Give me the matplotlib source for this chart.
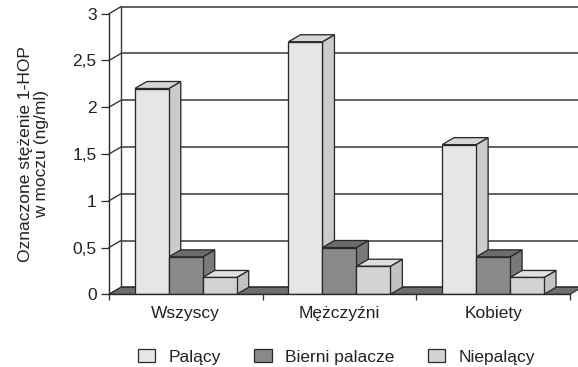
# 3D-style grouped column chart: 1-HOP concentration in urine
import matplotlib.pyplot as plt
from matplotlib.patches import Polygon, Patch

plt.rcParams['font.family'] = ['Liberation Sans', 'DejaVu Sans']
plt.rcParams['font.size'] = 12.5

# data
groups = ['Wszyscy', 'Mężczyźni', 'Kobiety']
series = ['Palący', 'Bierni palacze', 'Niepalący']
palacy = [2.2, 2.7, 1.6]
bierni = [0.4, 0.5, 0.4]
niepalacy = [0.18, 0.3, 0.18]
yticks = [0, 0.5, 1, 1.5, 2, 2.5, 3]
ytick_labels = ['0', '0,5', '1', '1,5', '2', '2,5', '3']

# face colours per series: front, top, side
front = ['#e6e6e6', '#8a8a8a', '#d3d3d3']
top = ['#d6d6d6', '#6c6c6c', '#e0e0e0']
side = ['#cbcbcb', '#7a7a7a', '#c2c2c2']
edge = '#2a2a2a'

# depth of the 3D box in data units
DX, DY = 0.078, 0.075
bar_w = 0.221
gap = 0.168

fig = plt.figure(figsize=(5.78, 3.67), dpi=100)
ax = fig.add_axes([0.1886, 0.1981, 0.7976, 0.7646])
ax.set_xlim(0, 3)
ax.set_ylim(0, 3)
ax.patch.set_visible(False)

# back wall and left side wall gridlines
for v in yticks:
    ax.plot([DX, 3 + DX + 0.1], [v + DY, v + DY], color='#383838', lw=1.1,
            zorder=1, clip_on=False, solid_capstyle='butt')
    ax.plot([0, DX], [v, v + DY], color='#383838', lw=1.0, zorder=1, clip_on=False)
ax.plot([DX, DX], [DY, 3 + DY], color='#383838', lw=1.0, zorder=1, clip_on=False)

# floor
ax.add_patch(Polygon([(0, 0), (3, 0), (3 + DX, DY), (DX, DY)], closed=True,
                     facecolor='#6e6e6e', edgecolor=edge, lw=0.8,
                     zorder=2, clip_on=False))

values = [palacy, bierni, niepalacy]
for k, vals in enumerate(values):
    xs = [i + gap + k * bar_w for i in range(len(groups))]
    ax.bar(xs, vals, width=bar_w, align='edge', color=front[k],
           edgecolor=edge, linewidth=0.95, zorder=5)
    for x, h in zip(xs, vals):
        r = x + bar_w
        ax.add_patch(Polygon([(x, h), (r, h), (r + DX, h + DY), (x + DX, h + DY)],
                             closed=True, facecolor=top[k], edgecolor=edge,
                             lw=0.95, zorder=4, clip_on=False))
        ax.add_patch(Polygon([(r, 0), (r, h), (r + DX, h + DY), (r + DX, DY)],
                             closed=True, facecolor=side[k], edgecolor=edge,
                             lw=0.95, zorder=3, clip_on=False))

# axes
for s in ['top', 'right']:
    ax.spines[s].set_visible(False)
for s in ['left', 'bottom']:
    ax.spines[s].set_color(edge)
    ax.spines[s].set_linewidth(1.0)
    ax.spines[s].set_zorder(6)

ax.set_yticks(yticks)
ax.set_yticklabels(ytick_labels)
ax.tick_params(axis='y', direction='out', length=5.5, width=0.9, pad=3.5,
               colors=edge, labelcolor='#222222')

ax.set_xticks([0, 1, 2, 3])
ax.set_xticklabels([])
ax.set_xticks([0.5, 1.5, 2.5], minor=True)
ax.set_xticklabels(groups, minor=True)
ax.tick_params(axis='x', which='major', direction='out', length=4.5, width=0.9,
               colors=edge)
ax.tick_params(axis='x', which='minor', length=0, pad=8.5, labelcolor='#222222')

ax.set_ylabel('Oznaczone stężenie 1-HOP\nw moczu (ng/ml)', linespacing=1.1,
              color='#222222')
ax.yaxis.set_label_coords(-0.13, 0.5)

handles = [Patch(facecolor=front[k], edgecolor=edge, linewidth=0.9)
           for k in range(len(series))]
fig.legend(handles, series, loc='center', bbox_to_anchor=(0.582, 0.027), ncol=3,
           frameon=False, handlelength=1.0, handleheight=0.75,
           handletextpad=0.75, columnspacing=1.95, borderaxespad=0,
           labelcolor='#222222')

fig.savefig('out.png', dpi=100)
